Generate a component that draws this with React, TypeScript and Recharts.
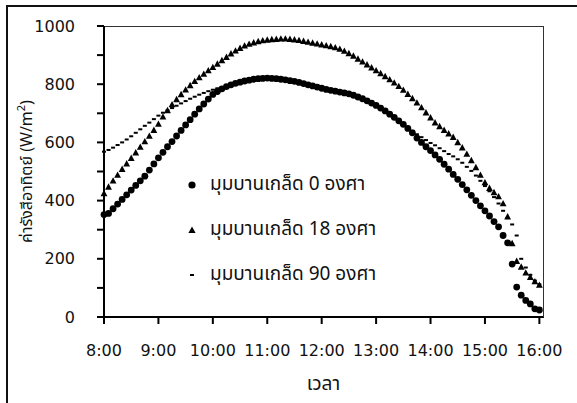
import { Scatter, ScatterChart, XAxis, YAxis } from "recharts";

// readings every 5 minutes, 8:00 - 16:00
const times = [
  "8:00", "8:05", "8:10", "8:15", "8:20", "8:25", "8:30", "8:35", "8:40", "8:45", "8:50", "8:55",
  "9:00", "9:05", "9:10", "9:15", "9:20", "9:25", "9:30", "9:35", "9:40", "9:45", "9:50", "9:55",
  "10:00", "10:05", "10:10", "10:15", "10:20", "10:25", "10:30", "10:35", "10:40", "10:45", "10:50", "10:55",
  "11:00", "11:05", "11:10", "11:15", "11:20", "11:25", "11:30", "11:35", "11:40", "11:45", "11:50", "11:55",
  "12:00", "12:05", "12:10", "12:15", "12:20", "12:25", "12:30", "12:35", "12:40", "12:45", "12:50", "12:55",
  "13:00", "13:05", "13:10", "13:15", "13:20", "13:25", "13:30", "13:35", "13:40", "13:45", "13:50", "13:55",
  "14:00", "14:05", "14:10", "14:15", "14:20", "14:25", "14:30", "14:35", "14:40", "14:45", "14:50", "14:55",
  "15:00", "15:05", "15:10", "15:15", "15:20", "15:25", "15:30", "15:35", "15:40", "15:45", "15:50", "15:55",
  "16:00",
];

const tilt0 = [
  352, 356, 372, 388, 404, 420, 436, 452, 468, 484, 505, 526,
  547, 566, 585, 603, 622, 641, 660, 678, 697, 715, 732, 749,
  765, 775, 784, 792, 798, 803, 807, 811, 814, 817, 819, 820,
  821, 820, 819, 817, 815, 812, 810, 806, 802, 798, 794, 790,
  786, 782, 779, 776, 773, 770, 767, 762, 756, 750, 743, 735,
  727, 718, 708, 697, 686, 674, 662, 648, 633, 615, 600, 585,
  572, 557, 542, 525, 508, 490, 473, 455, 437, 418, 400, 382,
  365, 347, 328, 310, 280, 255, 182, 103, 75, 57, 45, 28,
  24,
];

const tilt18 = [
  425, 447, 468, 488, 508, 527, 546, 565, 584, 603, 622, 642,
  663, 688, 710, 730, 748, 765, 781, 796, 810, 823, 835, 847,
  858, 870, 882, 893, 905, 915, 924, 932, 938, 943, 947, 950,
  952, 954, 955, 956, 956, 955, 953, 951, 948, 945, 942, 939,
  936, 933, 930, 926, 921, 914, 906, 897, 887, 877, 867, 857,
  847, 837, 827, 816, 805, 793, 780, 766, 751, 736, 720, 702,
  685, 668, 655, 642, 630, 618, 600, 582, 560, 538, 514, 488,
  462, 443, 428, 414, 390, 345, 253, 192, 172, 152, 137, 122,
  110,
];

const tilt90 = [
  568, 574, 582, 591, 600, 610, 621, 633, 645, 657, 668, 680,
  692, 702, 710, 718, 726, 734, 742, 750, 757, 764, 770, 776,
  781, 786, 790, 794, 798, 802, 806, 810, 813, 816, 818, 819,
  820, 819, 818, 816, 814, 811, 808, 804, 800, 796, 792, 788,
  784, 780, 777, 774, 771, 768, 764, 759, 753, 747, 740, 732,
  724, 715, 705, 694, 683, 672, 661, 650, 640, 628, 618, 608,
  598, 590, 580, 570, 560, 552, 542, 530, 516, 502, 486, 468,
  450, 432, 412, 390, 365, 340, 318, 280, 200, 170, 145, 125,
  112,
];

const xTickLabels = ["8:00", "9:00", "10:00", "11:00", "12:00", "13:00", "14:00", "15:00", "16:00"];
const yTicks = [0, 100, 200, 300, 400, 500, 600, 700, 800, 900, 1000];
const seriesNames = ["มุมบานเกล็ด 0 องศา", "มุมบานเกล็ด 18 องศา", "มุมบานเกล็ด 90 องศา"];

const toMin = (s: string) => {
  const [h, m] = s.split(":").map(Number);
  return h * 60 + m;
};
const fmtTime = (v: number) => `${Math.floor(v / 60)}:${String(v % 60).padStart(2, "0")}`;

const build = (vals: number[]) => times.map((t, i) => ({ t: toMin(t), v: vals[i] }));

const FONT = "'DejaVu Sans', 'Noto Sans', sans-serif";
const THAI = "Tahoma, 'Noto Sans Thai', 'Noto Sans', 'DejaVu Sans', sans-serif";
const INK = "#000";
const X_DOMAIN: [number, number] = [480, 964];

const Dot = ({ cx, cy }: any) => <circle cx={cx} cy={cy} r={3.4} fill={INK} />;
const Tri = ({ cx, cy }: any) => (
  <path d={`M${cx},${cy - 3.6} L${cx + 3.4},${cy + 2.8} L${cx - 3.4},${cy + 2.8} Z`} fill={INK} />
);
const Dash = ({ cx, cy }: any) => <rect x={cx - 2} y={cy - 1} width={4} height={2} fill={INK} />;

const icons = [
  <circle cx={6} cy={6} r={3.6} fill={INK} />,
  <path d="M6,2.4 L9.6,9 L2.4,9 Z" fill={INK} />,
  <rect x={4} y={5} width={4} height={2} fill={INK} />,
];

const YTitle = ({ viewBox }: any) => {
  const cx = 27;
  const cy = viewBox.y + viewBox.height / 2;
  return (
    <text
      x={cx}
      y={cy}
      transform={`rotate(-90 ${cx} ${cy})`}
      textAnchor="middle"
      dominantBaseline="central"
      fontFamily={THAI}
      fontSize={16}
      fill="#111"
    >
      ค่ารังสีอาทิตย์ (W/m<tspan dy={-6} fontSize={11}>2</tspan>
      <tspan dy={6}>)</tspan>
    </text>
  );
};

const XTitle = ({ viewBox }: any) => (
  <text
    x={viewBox.x + viewBox.width / 2}
    y={384}
    textAnchor="middle"
    dominantBaseline="central"
    fontFamily={THAI}
    fontSize={19}
    fill="#111"
  >
    เวลา
  </text>
);

export default function App() {
  return (
    <div style={{ position: "absolute", left: 0, top: 0, width: 577, height: 403, background: "#fff" }}>
      <div
        style={{
          position: "absolute",
          boxSizing: "border-box",
          left: 6,
          top: 5,
          width: 571,
          height: 398,
          borderLeft: "2px solid #111",
          borderTop: "2px solid #111",
        }}
      />
      {/* plot frame */}
      <div
        style={{
          position: "absolute",
          boxSizing: "border-box",
          left: 103,
          top: 26,
          width: 441,
          height: 292,
          borderLeft: "2px solid #000",
          borderBottom: "2px solid #000",
          borderTop: "1px solid #333",
          borderRight: "1px solid #333",
        }}
      />
      <ScatterChart width={577} height={403} margin={{ top: 26, right: 34, bottom: 0, left: 0 }}>
        <XAxis
          type="number"
          dataKey="t"
          domain={X_DOMAIN}
          ticks={xTickLabels.map(toMin)}
          tickFormatter={fmtTime}
          height={86}
          stroke={INK}
          strokeWidth={2}
          tickSize={7}
          tickMargin={21}
          tick={{ fontFamily: FONT, fontSize: 16, fill: "#111" }}
          label={<XTitle />}
        />
        <YAxis
          type="number"
          dataKey="v"
          domain={[0, 1000]}
          ticks={yTicks}
          interval={0}
          tickFormatter={(v: number) => (v % 200 === 0 ? String(v) : "")}
          width={104}
          stroke={INK}
          strokeWidth={2}
          tickSize={7}
          tickMargin={22}
          tick={{ fontFamily: FONT, fontSize: 16, fill: "#111" }}
          label={<YTitle />}
        />
        <Scatter name={seriesNames[0]} data={build(tilt0)} shape={<Dot />} isAnimationActive={false} />
        <Scatter name={seriesNames[1]} data={build(tilt18)} shape={<Tri />} isAnimationActive={false} />
        <Scatter name={seriesNames[2]} data={build(tilt90)} shape={<Dash />} isAnimationActive={false} />
      </ScatterChart>
      <div style={{ position: "absolute", left: 186, top: 162, fontFamily: THAI, fontSize: 19, color: "#111" }}>
        {seriesNames.map((n, i) => (
          <div key={n} style={{ display: "flex", alignItems: "center", height: 45 }}>
            <svg width={12} height={12} style={{ marginRight: 12 }}>
              {icons[i]}
            </svg>
            <span>{n}</span>
          </div>
        ))}
      </div>
    </div>
  );
}
